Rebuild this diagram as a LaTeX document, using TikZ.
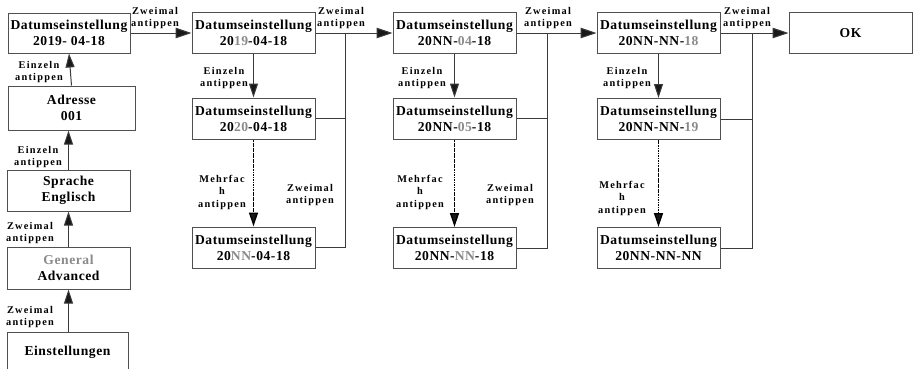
\documentclass[tikz,border=0pt]{standalone}
\usepackage{fontspec}
\setmainfont{Liberation Serif}
\newfontfamily\bxfont[LetterSpace=4]{Liberation Serif}
\newfontfamily\lbfont[LetterSpace=12]{Liberation Serif}
\usetikzlibrary{arrows.meta}
\definecolor{gtxt}{HTML}{8A8A8A}
\definecolor{bord}{HTML}{505050}
\definecolor{lnc}{HTML}{3A3A3A}
\newcommand{\gr}[1]{{\color{gtxt}#1}}
\begin{document}
\begin{tikzpicture}[x=1pt,y=-1pt,
 box/.style={draw=bord, line width=1pt, inner sep=0pt, align=center, minimum width=123pt, minimum height=41pt,
   font=\bxfont\bfseries\fontsize{13.6}{16}\selectfont},
 lbl/.style={inner sep=0pt, align=center, font=\lbfont\bfseries\fontsize{10.3}{12.5}\selectfont},
 arr/.style={line width=1pt, draw=lnc, -{Triangle[length=16pt,width=10.5pt,fill=black!90]}},
 varr/.style={line width=1pt, draw=lnc, -{Triangle[length=14pt,width=9pt,fill=black!90]}},
 darr/.style={varr, line width=1.3pt, draw=black, dash pattern=on 2.5pt off 0.7pt on 1pt off 0.7pt},
 ln/.style={line width=1pt, draw=lnc}]
\useasboundingbox (0,0) rectangle (913,368);
% left column
\node[box, minimum width=122pt, minimum height=40pt] (A) at (69,33) {Datumseinstellung\\2019- 04-18};
\node[box, minimum width=127pt, minimum height=44pt] (Adr) at (71.5,108) {Adresse\\001};
\node[box, minimum width=123pt, minimum height=41pt] (Spr) at (68.5,190.5) {Sprache\\Englisch};
\node[box, minimum width=123pt, minimum height=42pt] (Gen) at (68.5,268) {\gr{General}\\Advanced};
\node[box, minimum width=121pt, minimum height=40pt] (Ein) at (67.5,352) {Einstellungen};
\draw[varr] (Adr.north) -- (A.south);
\draw[varr] (Spr.north) -- (Adr.south -| Spr.north);
\draw[varr] (Gen.north) -- (Spr.south);
\draw[varr] (Ein.north -| Gen.south) -- (Gen.south);
\node[lbl] (l1) at (39,72) {Einzeln\\antippen};
\node[lbl] (l2) at (38,157) {Einzeln\\antippen};
\node[lbl] (l3) at (30,233) {Zweimal\\antippen};
\node[lbl] (l4) at (30,317) {Zweimal\\antippen};
% column 2
\node[box] (C1) at (253.5,33) {Datumseinstellung\\20\gr{19}-04-18};
\node[box] (C1b) at (253.5,118.5) {Datumseinstellung\\20\gr{20}-04-18};
\node[box] (C1c) at (253.5,247.5) {Datumseinstellung\\20\gr{NN}-04-18};
% column 3
\node[box] (C2) at (454.5,33) {Datumseinstellung\\20NN-\gr{04}-18};
\node[box] (C2b) at (454.5,118.5) {Datumseinstellung\\20NN-\gr{05}-18};
\node[box] (C2c) at (454.5,248) {Datumseinstellung\\20NN-\gr{NN}-18};
% column 4
\node[box] (C3) at (658.5,33) {Datumseinstellung\\20NN-NN-\gr{18}};
\node[box] (C3b) at (658.5,119) {Datumseinstellung\\20NN-NN-\gr{19}};
\node[box] (C3c) at (658.5,248) {Datumseinstellung\\20NN-NN-NN};
% OK
\node[box] (OK) at (850.5,33) {OK};
% junctions
\coordinate (J1) at (345,33);
\coordinate (J2) at (547,33);
\coordinate (J3) at (752,33);
\draw[arr] (A.east) -- (C1.west);
\draw[arr] (C1.east) -- (C2.west);
\draw[arr] (C2.east) -- (C3.west);
\draw[arr] (C3.east) -- (OK.west);
\draw[ln] (C1b.east) -| (J1);
\draw[ln] (C1c.east) -| (J1);
\draw[ln] (C2b.east) -| (J2);
\draw[ln] (C2c.east) -| (J2);
\draw[ln] (C3b.east) -| (J3);
\draw[ln] (C3c.east) -| (J3);
\draw[varr] (C1.south) -- (C1b.north);
\draw[varr] (C2.south) -- (C2b.north);
\draw[varr] (C3.south) -- (C3b.north);
\draw[darr] (C1b.south) -- (C1c.north);
\draw[darr] (C2b.south) -- (C2c.north);
\draw[darr] (C3b.south) -- (C3c.north);
% labels
\node[lbl] (t1) at (155,18) {Zweimal\\antippen};
\node[lbl] (t2) at (341,18) {Zweimal\\antippen};
\node[lbl] (t3) at (548,18) {Zweimal\\antippen};
\node[lbl] (t4) at (747,18) {Zweimal\\antippen};
\node[lbl] (e1) at (224,78) {Einzeln\\antippen};
\node[lbl] (e2) at (422,78) {Einzeln\\antippen};
\node[lbl] (e3) at (627,78) {Einzeln\\antippen};
\node[lbl] (m1) at (222,192) {Mehrfac\\h\\antippen};
\node[lbl] (m2) at (420,192) {Mehrfac\\h\\antippen};
\node[lbl] (m3) at (622,198) {Mehrfac\\h\\antippen};
\node[lbl] (z1) at (310,195) {Zweimal\\antippen};
\node[lbl] (z2) at (510,195) {Zweimal\\antippen};
\end{tikzpicture}
\end{document}
